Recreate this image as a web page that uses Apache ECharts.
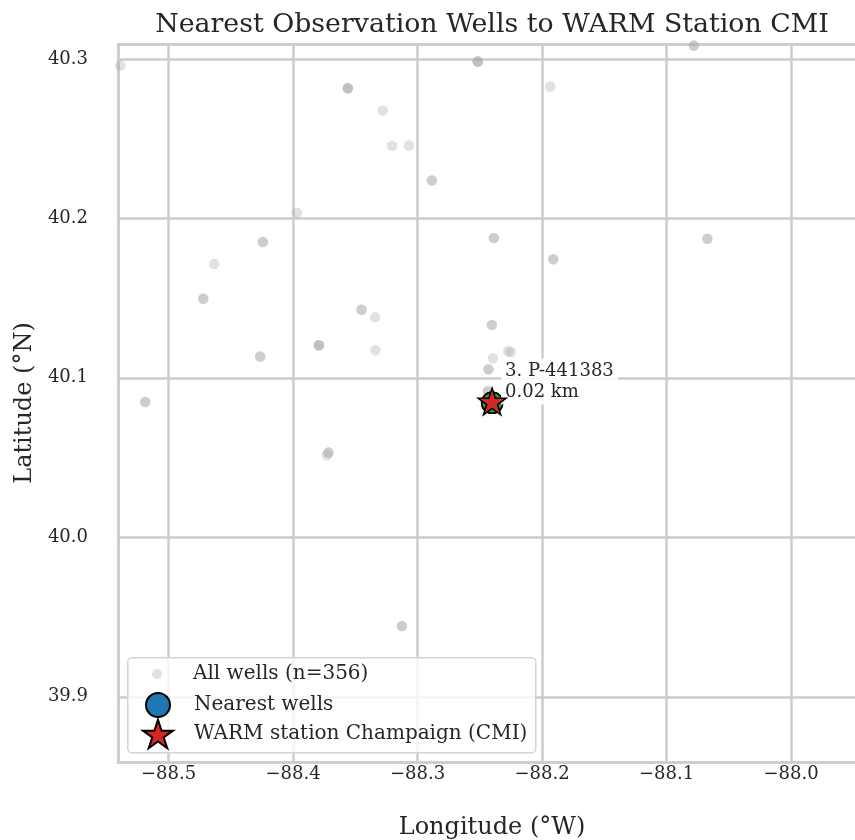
<!DOCTYPE html>
<html>
<head>
<meta charset="utf-8">
<script src="https://cdn.jsdelivr.net/npm/echarts@6/dist/echarts.min.js"></script>
<style>html,body{margin:0;padding:0;background:#fff}#c{width:855px;height:840px}</style>
</head>
<body>
<div id="c"></div>
<script>
// ---- data ----
const titleText = 'Nearest Observation Wells to WARM Station CMI';
const xAxisTitle = 'Longitude (°W)';
const yAxisTitle = 'Latitude (°N)';
const legendNames = ['All wells (n=356)', 'Nearest wells', 'WARM station Champaign (CMI)'];

// all wells (duplicate entries = co-located wells)
const wellLon = [
  -88.5388,
  -88.3560, -88.3560, -88.3560,
  -88.3279, -88.3204, -88.3070,
  -88.2885, -88.2885,
  -88.2516, -88.2516, -88.2516,
  -88.3969, -88.1935,
  -88.0781, -88.0781,
  -88.4242, -88.4242,
  -88.4633,
  -88.4721, -88.4721,
  -88.3450, -88.3450,
  -88.3340,
  -88.3792, -88.3792, -88.3792,
  -88.3338,
  -88.4264, -88.4264,
  -88.5187, -88.5187,
  -88.2387, -88.2387,
  -88.2403, -88.2403,
  -88.2395,
  -88.2431, -88.2431,
  -88.1910, -88.1910,
  -88.0672, -88.0672,
  -88.2251, -88.2272,
  -88.2435, -88.2435,
  -88.3715, -88.3715, -88.3728,
  -88.3126, -88.3126
];
const wellLat = [
  40.2958,
  40.2816, 40.2816, 40.2816,
  40.2676, 40.2455, 40.2457,
  40.2237, 40.2237,
  40.2983, 40.2983, 40.2983,
  40.2035, 40.2826,
  40.3083, 40.3083,
  40.1851, 40.1851,
  40.1713,
  40.1496, 40.1496,
  40.1427, 40.1427,
  40.1379,
  40.1204, 40.1204, 40.1204,
  40.1172,
  40.1133, 40.1133,
  40.0848, 40.0848,
  40.1876, 40.1876,
  40.1331, 40.1331,
  40.1122,
  40.1053, 40.1053,
  40.1743, 40.1743,
  40.1872, 40.1872,
  40.1162, 40.1166,
  40.0915, 40.0915,
  40.0531, 40.0531, 40.0514,
  39.9443, 39.9443
];

// nearest wells (rank order)
const nearRank = [1, 2, 3];
const nearId = ['', '', 'P-441383'];
const nearKm = [0.01, 0.01, 0.02];
const nearLon = [-88.2401, -88.2401, -88.2400];
const nearLat = [40.0843, 40.0843, 40.0844];

// station
const stationLon = [-88.2401];
const stationLat = [40.0843];

// axis extents (the axes run slightly past the right edge of the picture)
const xMin = -88.5406, xMax = -87.9398;
const yMin = 39.8591, yMax = 40.3093;

// ---- styling helpers ----
const FONT = "'DejaVu Serif', serif";
const TXT = '#262626';
const GRIDC = '#cccccc';
const rankColors = ['#1f77b4', '#ff7f0e', '#2ca02c'];

function starPath() {
  const pts = [];
  for (let i = 0; i < 10; i++) {
    const a = (-90 + i * 36) * Math.PI / 180;
    const r = i % 2 === 0 ? 1 : 0.381966;
    pts.push((r * Math.cos(a)).toFixed(4) + ' ' + (r * Math.sin(a)).toFixed(4));
  }
  return 'path://M' + pts.join(' L') + ' Z';
}
const STAR = starPath();

function tickFmt(v) {
  const t = v * 10;
  if (Math.abs(t - Math.round(t)) > 1e-6) return '';
  return (v < 0 ? '\u2212' : '') + Math.abs(v).toFixed(1);
}

const wellData = wellLon.map((x, i) => [x, wellLat[i]]);
const nearData = nearLon.map((x, i) => {
  const d = { value: [x, nearLat[i]], itemStyle: { color: rankColors[i] } };
  if (nearId[i]) {
    d.label = {
      show: true,
      formatter: nearRank[i] + '. ' + nearId[i] + '\n' + nearKm[i].toFixed(2) + ' km'
    };
  }
  return d;
});
const stationData = stationLon.map((x, i) => [x, stationLat[i]]);

// legend layout
const legX = 157, legTextX = 193, legRows = [674, 704, 733];
const legSizes = [[10, 10], [24, 24], [30, 28.5]];
const legLine = 24;
const legends = legendNames.map((n, i) => {
  const [w, h] = legSizes[i];
  const boxH = Math.max(h, legLine);
  return {
    data: [n],
    left: legX - w / 2,
    top: legRows[i] - boxH / 2,
    itemWidth: w,
    itemHeight: h,
    padding: 0,
    selectedMode: false,
    z: 110,
    textStyle: {
      fontFamily: FONT, fontSize: 20, color: TXT, lineHeight: legLine,
      padding: [0, 0, 0, legTextX - (legX + w / 2 + 5)]
    }
  };
});

const spine = { show: true, lineStyle: { color: GRIDC, width: 2.5 } };

const chart = echarts.init(document.getElementById('c'), null, { renderer: 'canvas' });
chart.setOption({
  backgroundColor: '#ffffff',
  animation: false,
  title: {
    text: titleText,
    left: 487, textAlign: 'center', top: 7,
    textStyle: { fontFamily: FONT, fontSize: 26.8, fontWeight: 'normal', color: TXT }
  },
  grid: { left: 118, top: 44, right: -11, bottom: 78, outerBoundsMode: 'none', containLabel: false },
  graphic: [{
    type: 'rect', z: 100, left: 127, top: 657,
    shape: { width: 408, height: 95, r: 4 },
    style: { fill: 'rgba(255,255,255,0.8)', stroke: '#d4d4d4', lineWidth: 1.5 }
  }],
  legend: legends,
  xAxis: [{
    type: 'value', min: xMin, max: xMax,
    name: xAxisTitle, nameLocation: 'middle', nameGap: 54,
    nameTextStyle: { fontFamily: FONT, fontSize: 24, color: TXT },
    axisLine: spine, axisTick: { show: false },
    axisLabel: { formatter: tickFmt, fontFamily: FONT, fontSize: 18, color: TXT, margin: 3 },
    splitLine: { show: true, lineStyle: { color: GRIDC, width: 2.5 } }
  }, {
    type: 'value', position: 'top', min: xMin, max: xMax,
    axisLine: spine, axisTick: { show: false }, axisLabel: { show: false },
    splitLine: { show: false }
  }],
  yAxis: {
    type: 'value', min: yMin, max: yMax,
    name: yAxisTitle, nameLocation: 'middle', nameGap: 78,
    nameTextStyle: { fontFamily: FONT, fontSize: 24, color: TXT },
    axisLine: spine, axisTick: { show: false },
    axisLabel: { formatter: tickFmt, fontFamily: FONT, fontSize: 18, color: TXT, margin: 30 },
    splitLine: { show: true, lineStyle: { color: GRIDC, width: 2.5 } }
  },
  series: [
    {
      name: legendNames[0], type: 'scatter', data: wellData,
      symbol: 'circle', symbolSize: 10.5,
      itemStyle: { color: 'rgba(170,170,170,0.35)', opacity: 1 }, z: 2
    },
    {
      name: legendNames[1], type: 'scatter', data: nearData,
      symbol: 'circle', symbolSize: 21,
      itemStyle: { color: rankColors[0], borderColor: '#000', borderWidth: 1.5, opacity: 1 },
      label: {
        position: [20, -33], align: 'left', verticalAlign: 'top',
        fontFamily: FONT, fontSize: 18, color: TXT, lineHeight: 21,
        backgroundColor: 'rgba(255,255,255,0.85)', padding: [2, 4]
      },
      z: 3
    },
    {
      name: legendNames[2], type: 'scatter', data: stationData,
      symbol: STAR, symbolSize: [28, 26.6], symbolOffset: [0, -1.4],
      itemStyle: { color: '#d62728', borderColor: '#000', borderWidth: 1.5, opacity: 1 }, z: 4
    }
  ]
});
</script>
</body>
</html>
